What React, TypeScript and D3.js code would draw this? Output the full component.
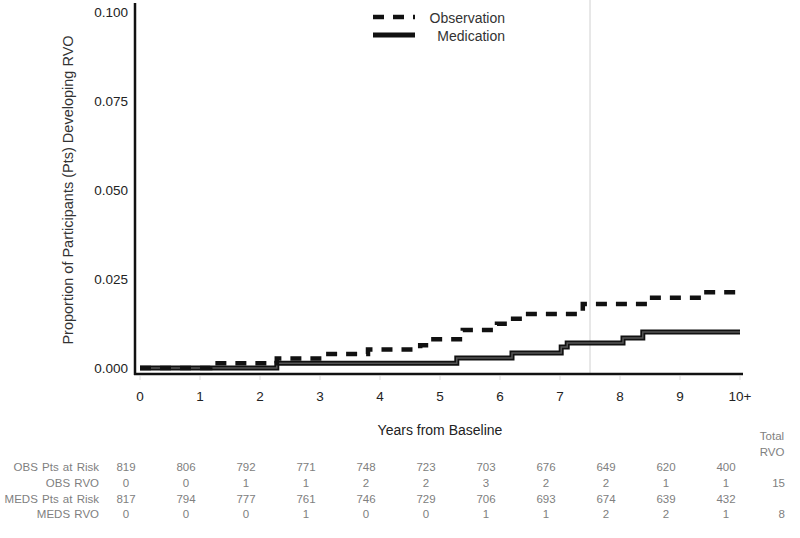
import React from "react";
import * as d3 from "d3";

const obsTimes = [0, 1.17, 2.28, 3.1, 3.8, 4.67, 4.83, 5.38, 5.95, 6.17, 6.42, 7.38, 8.47, 9.37, 10];
const obsValues = [0, 0.0013, 0.0027, 0.0039, 0.0052, 0.0064, 0.0081, 0.0107, 0.0124, 0.0138, 0.0152, 0.018, 0.0197, 0.0213, 0.0213];
const medTimes = [0, 2.28, 5.28, 6.2, 7.02, 7.12, 8.05, 8.38, 10];
const medValues = [0, 0.0013, 0.0028, 0.0042, 0.0059, 0.007, 0.0084, 0.0101, 0.0101];

const xTicks = [0, 1, 2, 3, 4, 5, 6, 7, 8, 9, 10];
const xTickLabels = ["0", "1", "2", "3", "4", "5", "6", "7", "8", "9", "10+"];
const yTicks = [0, 0.025, 0.05, 0.075, 0.1];
const yTickLabels = ["0.000", "0.025", "0.050", "0.075", "0.100"];

const rowLabels = ["OBS Pts at Risk", "OBS RVO", "MEDS Pts at Risk", "MEDS RVO"];
const obsAtRisk = [819, 806, 792, 771, 748, 723, 703, 676, 649, 620, 400];
const obsRVO = [0, 0, 1, 1, 2, 2, 3, 2, 2, 1, 1];
const medsAtRisk = [817, 794, 777, 761, 746, 729, 706, 693, 674, 639, 432];
const medsRVO = [0, 0, 0, 1, 0, 0, 1, 1, 2, 2, 1];
const totals = ["", "15", "", "8"];
const cutoffYear = 7.5;

const FONT = "'Liberation Sans', Arial, Helvetica, sans-serif";

export default function App() {
  const x = d3.scaleLinear().domain([0, 10]).range([140, 740]);
  const y = d3.scaleLinear().domain([0, 0.1]).range([368, 12]);
  const line = d3
    .line<[number, number]>()
    .x((d) => x(d[0]))
    .y((d) => y(d[1]))
    .curve(d3.curveStepAfter);
  const obsPath = line(obsTimes.map((t, i) => [t, obsValues[i]]) as [number, number][]) || "";
  const medPath = line(medTimes.map((t, i) => [t, medValues[i]]) as [number, number][]) || "";
  const rows = [obsAtRisk, obsRVO, medsAtRisk, medsRVO];
  const rowY = [471, 487, 503, 518];
  const axisY = 374;

  return (
    <svg width={800} height={538} style={{ position: "absolute", left: 0, top: 0, background: "#fff" }} fontFamily={FONT}>
      <rect width={800} height={538} fill="#fff" />
      {/* cutoff line */}
      <line x1={x(cutoffYear)} x2={x(cutoffYear)} y1={0} y2={axisY} stroke="#d0d0d0" strokeWidth={1} />
      {/* axes */}
      <line x1={135} x2={135} y1={3} y2={axisY + 1} stroke="#111" strokeWidth={2.5} />
      <line x1={134} x2={743} y1={axisY} y2={axisY} stroke="#111" strokeWidth={2.5} />
      {xTicks.map((t, i) => (
        <g key={"xt" + i}>
          <line x1={x(t)} x2={x(t)} y1={axisY + 2} y2={axisY + 6} stroke="#ddd" strokeWidth={1} />
          <text x={x(t)} y={401} textAnchor="middle" fontSize={13.5} fill="#222">
            {xTickLabels[i]}
          </text>
        </g>
      ))}
      {yTicks.map((t, i) => (
        <text key={"yt" + i} x={128} y={y(t) + 5} textAnchor="end" fontSize={13.5} fill="#222">
          {yTickLabels[i]}
        </text>
      ))}
      <text
        transform={`translate(73,${(12 + 368) / 2}) rotate(-90)`}
        textAnchor="middle"
        fontSize={14.5}
        fill="#333"
      >
        Proportion of Participants (Pts) Developing RVO
      </text>
      <text x={x(5)} y={435} textAnchor="middle" fontSize={14} fill="#222">
        Years from Baseline
      </text>
      {/* curves */}
      <path d={medPath} fill="none" stroke="#111" strokeWidth={5} />
      <path d={medPath} fill="none" stroke="#555" strokeWidth={1.5} />
      <path d={obsPath} fill="none" stroke="#111" strokeWidth={4.5} strokeDasharray="11,9" />
      {/* legend */}
      <line x1={373} x2={415} y1={17} y2={17} stroke="#111" strokeWidth={4.5} strokeDasharray="11,9" />
      <line x1={373} x2={415} y1={35} y2={35} stroke="#111" strokeWidth={5} />
      <text x={505} y={23} textAnchor="end" fontSize={14} fill="#333">Observation</text>
      <text x={505} y={41} textAnchor="end" fontSize={14} fill="#333">Medication</text>
      {/* risk table */}
      <text x={772} y={440} textAnchor="middle" fontSize={11.5} fill="#808080">Total</text>
      <text x={772} y={456} textAnchor="middle" fontSize={11.5} fill="#808080">RVO</text>
      {rowLabels.map((lab, r) => (
        <g key={"row" + r}>
          <text x={99} y={rowY[r]} textAnchor="end" fontSize={11.5} fill="#808080" wordSpacing={1}>
            {lab}
          </text>
          {rows[r].map((v, i) => (
            <text key={i} x={x(xTicks[i]) - 14} y={rowY[r]} textAnchor="middle" fontSize={11.5} fill="#808080">
              {v}
            </text>
          ))}
          {totals[r] && (
            <text x={785} y={rowY[r]} textAnchor="end" fontSize={11.5} fill="#808080">
              {totals[r]}
            </text>
          )}
        </g>
      ))}
    </svg>
  );
}
